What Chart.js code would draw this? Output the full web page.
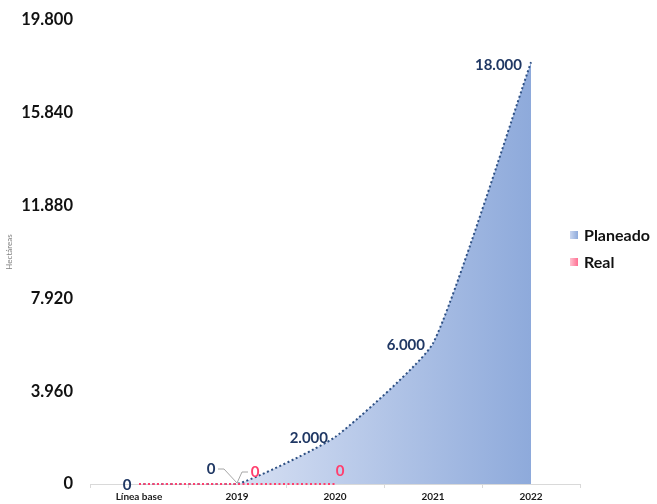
<!DOCTYPE html>
<html>
<head>
<meta charset="utf-8">
<script src="https://cdn.jsdelivr.net/npm/chart.js@4/dist/chart.umd.min.js"></script>
<style>
  html, body { margin: 0; padding: 0; background: #fff; }
  #wrap { position: relative; width: 657px; height: 504px; }
  #legend { position: absolute; left: 570px; top: 221px; font: bold 16px Lato, sans-serif; color: #111; }
  #legend div { display: flex; align-items: center; height: 27px; }
  #legend span.box { display: inline-block; width: 8px; height: 8px; margin-right: 6px; }
</style>
</head>
<body>
<div id="wrap">
  <canvas id="chart" width="657" height="504"></canvas>
  <div id="legend"></div>
</div>
<script>
// ---------- data ----------
const categories = ['Línea base', '2019', '2020', '2021', '2022'];
const planeado = [0, 0, 2000, 6000, 18000];
const real = [0, 0, 0, null, null];
const yMax = 19800;
const yStep = 3960;

// label placement, relative to each point
const planeadoLabelPos = [
  { dx: -12, dy: 1, align: 'center' },
  { dx: -26, dy: -15, align: 'center', leader: 'right' },
  { dx: -7, dy: 1, align: 'right' },
  { dx: -8, dy: 2, align: 'right' },
  { dx: -9, dy: 3, align: 'right' }
];
const realLabelPos = [
  null,
  { dx: 18, dy: -12, align: 'center', leader: 'left' },
  { dx: 5, dy: -13, align: 'center' },
  null,
  null
];

const BLUE_TEXT = '#203864';
const PINK = '#ff3f6e';

function fmt(v) {
  return String(v).replace(/\B(?=(\d{3})+(?!\d))/g, '.');
}

// draws the value labels with small leader lines
const valueLabels = {
  id: 'valueLabels',
  afterDatasetsDraw(chart) {
    const ctx = chart.ctx;
    ctx.save();
    ctx.font = "bold 15px Lato, sans-serif";
    ctx.textBaseline = 'middle';
    chart.data.datasets.forEach((ds, i) => {
      const meta = chart.getDatasetMeta(i);
      meta.data.forEach((pt, j) => {
        const pos = ds.labelPos[j];
        if (!pos || ds.data[j] == null) return;
        const lx = pt.x + pos.dx, ly = pt.y + pos.dy;
        if (pos.leader) {
          ctx.strokeStyle = '#a6a6a6';
          ctx.lineWidth = 1;
          ctx.beginPath();
          const s = pos.leader === 'right' ? 1 : -1;
          ctx.moveTo(lx + s * 7, ly);
          ctx.lineTo(lx + s * 13, ly);
          ctx.lineTo(pt.x, pt.y - 1);
          ctx.stroke();
        }
        ctx.fillStyle = ds.labelColor;
        ctx.textAlign = pos.align;
        ctx.fillText(fmt(ds.data[j]), lx, ly);
      });
    });
    ctx.restore();
  }
};

function planeadoFill(c) {
  const chart = c.chart;
  if (!chart.chartArea) return '#a9bde6';
  const x0 = chart.scales.x.getPixelForValue(1);
  const x1 = chart.scales.x.getPixelForValue(4);
  const g = chart.ctx.createLinearGradient(x0, 0, x1, 0);
  g.addColorStop(0, '#d7e0f3');
  g.addColorStop(1, '#8eaadb');
  return g;
}

new Chart(document.getElementById('chart'), {
  type: 'line',
  data: {
    labels: categories,
    datasets: [
      {
        label: 'Planeado',
        data: planeado,
        order: 1,
        fill: 'origin',
        backgroundColor: planeadoFill,
        borderColor: '#2e5083',
        borderWidth: 2,
        borderDash: [2, 2.5],
        tension: 0.15,
        pointRadius: 0,
        clip: 4,
        labelColor: BLUE_TEXT,
        labelPos: planeadoLabelPos
      },
      {
        label: 'Real',
        data: real,
        order: 0,
        fill: false,
        borderColor: PINK,
        borderWidth: 2,
        borderDash: [2, 2.5],
        pointRadius: 0,
        clip: 4,
        labelColor: PINK,
        labelPos: realLabelPos
      }
    ]
  },
  options: {
    responsive: false,
    animation: false,
    layout: { padding: { top: 20, right: 77, bottom: 0, left: 0 } },
    plugins: {
      legend: { display: false },
      tooltip: { enabled: false }
    },
    scales: {
      x: {
        offset: true,
        grid: { display: true, offset: true, drawOnChartArea: false, drawTicks: true, tickLength: 4, color: '#d9d9d9' },
        border: { display: true, color: '#d9d9d9' },
        ticks: { padding: 3, color: '#1a1a1a', font: { family: 'Lato', size: 10, weight: 'bold' }, maxRotation: 0 },
        afterFit: (s) => { s.height = 20; }
      },
      y: {
        min: 0,
        max: yMax,
        // invisible tick marks keep the labels away from the plot
        // (ticks.padding would also push the plot area inward)
        grid: { display: true, drawOnChartArea: false, drawTicks: true, tickLength: 17, color: 'rgba(0,0,0,0)' },
        border: { display: false },
        ticks: {
          stepSize: yStep,
          padding: 0,
          color: '#111',
          font: { family: 'Lato', size: 16.5, weight: 'bold' },
          callback: (v) => fmt(v)
        },
        title: {
          display: true,
          text: 'Hectáreas',
          color: '#808080',
          font: { family: 'Lato', size: 8 },
          padding: { top: 5, bottom: 0 }
        },
        afterFit: (s) => { s.width = 90; }
      }
    }
  },
  plugins: [valueLabels]
});

// legend
const legendItems = [
  { text: 'Planeado', box: 'linear-gradient(90deg,#c9d6f0,#8eaadb)' },
  { text: 'Real', box: 'linear-gradient(90deg,#ffc2d0,#ff6f92)' }
];
document.getElementById('legend').innerHTML = legendItems
  .map(l => `<div><span class="box" style="background:${l.box}"></span>${l.text}</div>`)
  .join('');
</script>
</body>
</html>
